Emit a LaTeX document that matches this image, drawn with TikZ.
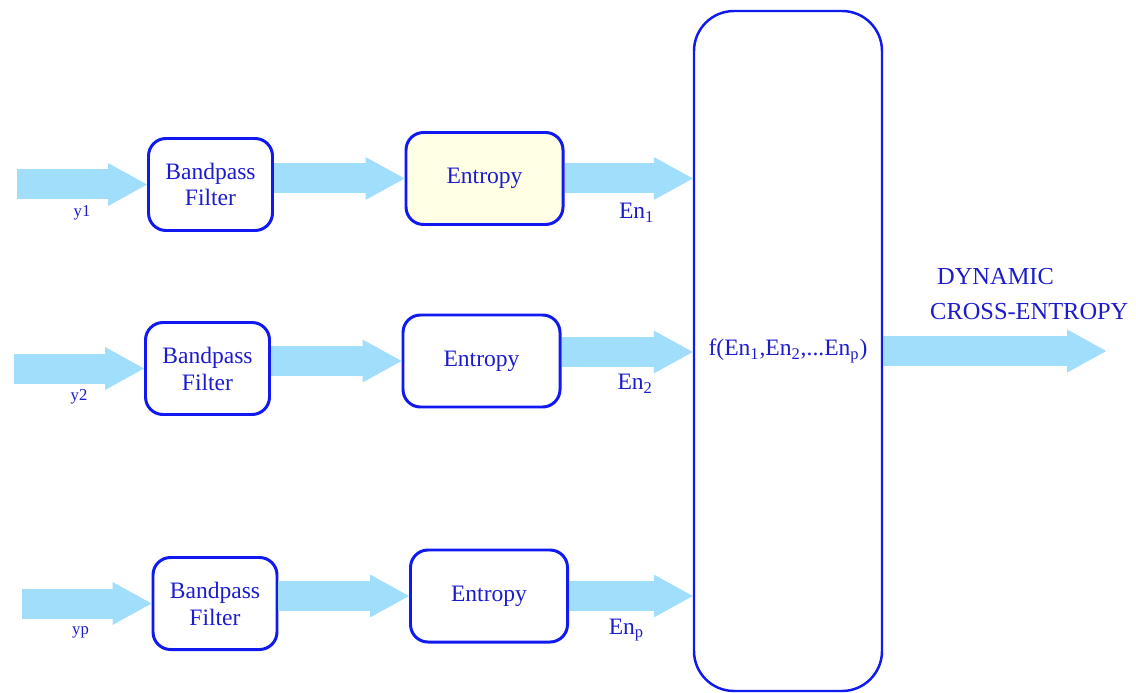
\documentclass[tikz,border=0pt]{standalone}
\usepackage{fontspec}
\setmainfont{Liberation Serif}
\usetikzlibrary{arrows.meta,positioning}
\definecolor{boxblue}{RGB}{15,25,240}
\definecolor{txtblue}{RGB}{28,28,205}
\definecolor{flowblue}{RGB}{160,222,252}
\definecolor{entyellow}{RGB}{255,255,228}
\def\En#1{En\textsubscript{#1}}

\begin{document}
\begin{tikzpicture}[node distance=5.48cm,font=\fontsize{13.4}{15.3}\selectfont,text=txtblue,
    filt/.style={draw=boxblue,line width=1.7pt,rounded corners=0.35cm,minimum width=2.48cm,minimum height=1.84cm,align=center,inner sep=1pt},
    ent/.style={draw=boxblue,line width=1.7pt,rounded corners=0.35cm,minimum width=3.14cm,minimum height=1.84cm,inner sep=1pt},
    func/.style={draw=boxblue,line width=1.4pt,rounded corners=0.8cm,minimum width=3.76cm,minimum height=13.6cm,inner sep=1pt},
    flow/.style={draw=flowblue,line width=0.6cm,-{Triangle[length=0.78cm,width=0.86cm,line width=0pt]}},
    ylbl/.style={font=\fontsize{9.5}{10}\selectfont,yshift=-0.57cm},
    enlbl/.style={yshift=-0.68cm,xshift=0.16cm}]

    \useasboundingbox (0,0) rectangle (22.72,-13.86);

    \node[func] (fn) at (15.76,-7.02) {f(\En{1},\En{2},...\En{p})};

    % first channel
    \node[filt] (bp1) at (4.21,-3.69) {Bandpass\\Filter};
    \node[ent,fill=entyellow,right of=bp1,yshift=0.12cm] (ent1) {Entropy};
    \coordinate[left=2.6cm of bp1.west] (in1);
    \draw[flow] (in1) -- node[ylbl] {y1} (bp1.west);
    \draw[flow] (bp1.east |- ent1) -- (ent1.west);
    \draw[flow] (ent1.east) -- node[enlbl] {\En{1}} (ent1.east -| fn.west);

    % second channel
    \node[filt] (bp2) at (4.15,-7.37) {Bandpass\\Filter};
    \node[ent,right of=bp2,yshift=0.15cm] (ent2) {Entropy};
    \coordinate[left=2.6cm of bp2.west] (in2);
    \coordinate (e2) at ([yshift=0.18cm]ent2.east);
    \draw[flow] (in2) -- node[ylbl] {y2} (bp2.west);
    \draw[flow] (bp2.east |- ent2) -- (ent2.west);
    \draw[flow] (e2) -- node[enlbl,yshift=0.04cm] {\En{2}} (e2 -| fn.west);

    % last channel
    \node[filt] (bp3) at (4.30,-12.07) {Bandpass\\Filter};
    \node[ent,right of=bp3,yshift=0.15cm] (ent3) {Entropy};
    \coordinate[left=2.6cm of bp3.west] (in3);
    \draw[flow] (in3) -- node[ylbl,xshift=-0.12cm] {yp} (bp3.west);
    \draw[flow] (bp3.east |- ent3) -- (ent3.west);
    \draw[flow] (ent3.east) -- node[enlbl,xshift=-0.25cm] {\En{p}} (ent3.east -| fn.west);

    % output
    \coordinate[right=4.46cm of fn.east] (out);
    \draw[flow] (fn.east) -- node[pos=0.655,yshift=1.14cm,align=left,font=\fontsize{13.9}{20.4}\selectfont] {\hspace*{0.14cm}DYNAMIC\\CROSS-ENTROPY} (out);

\end{tikzpicture}
\end{document}
